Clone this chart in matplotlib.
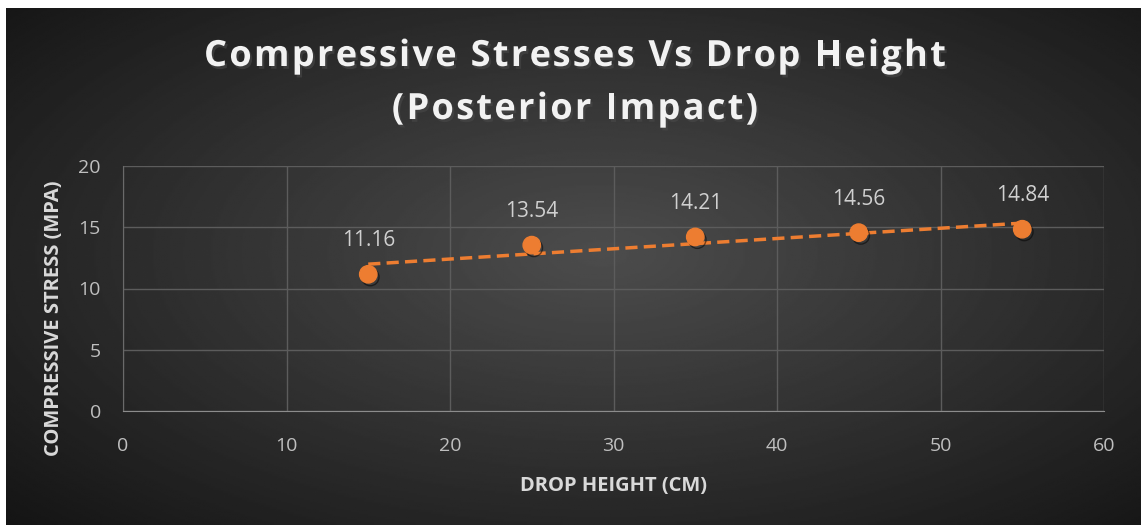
import numpy as np
import matplotlib.pyplot as plt
import matplotlib.patheffects as pe

# data
drop_height = [15, 25, 35, 45, 55]
stress = [11.16, 13.54, 14.21, 14.56, 14.84]
x_ticks = [0, 10, 20, 30, 40, 50, 60]
y_ticks = [0, 5, 10, 15, 20]
title_lines = ['Compressive Stresses Vs Drop Height', '(Posterior Impact)']

orange = '#ED7D31'
txt = '#d9d9d9'
W, H = 1141, 525

fig = plt.figure(figsize=(W / 100, H / 100), dpi=100)
fig.patch.set_facecolor('white')

# radial gradient background
bg = fig.add_axes([6 / W, 0, 1 - 6 / W, 1 - 8 / H])
bg.set_axis_off()
yy, xx = np.mgrid[-1:1:300j, -1:1:600j]
r = np.sqrt(((xx - 0.05) * 0.95) ** 2 + ((yy + 0.05) * 0.9) ** 2)
bg.imshow(0.30 - 0.16 * np.clip(r, 0, 1.4), cmap='gray', vmin=0, vmax=1,
          aspect='auto', extent=[0, 1, 0, 1])

ax = fig.add_axes([123 / W, 1 - 411 / H, (1104 - 123) / W, (411 - 166) / H])
ax.patch.set_alpha(0)
ax.set_xlim(0, 60)
ax.set_ylim(0, 20)
ax.set_xticks(x_ticks)
ax.set_yticks(y_ticks)
ax.grid(True, color='#5c5c5c', linewidth=1)
for s in ['top', 'right']:
    ax.spines[s].set_visible(False)
ax.spines['bottom'].set_color('#8c8c8c')
ax.spines['left'].set_color('#6a6a6a')
ax.tick_params(length=0, colors='#bfbfbf', labelsize=14)
ax.tick_params(axis='x', pad=19)
ax.tick_params(axis='y', pad=16)
for lbl in ax.get_xticklabels() + ax.get_yticklabels():
    lbl.set_fontfamily('Open Sans')

# linear trendline
k, b = np.polyfit(drop_height, stress, 1)
tx = np.array([drop_height[0], drop_height[-1]])
ax.plot(tx, k * tx + b, '--', color=orange, linewidth=2.5, dashes=(3.5, 1.8), zorder=3)

ax.plot(drop_height, stress, 'o', color=orange, markersize=12.5, zorder=4,
        path_effects=[pe.SimpleLineShadow(offset=(1.5, -2), alpha=0.5), pe.Normal()])

for x, y in zip(drop_height, stress):
    ax.annotate(f'{y:.2f}', (x, y), xytext=(0, 24), textcoords='offset points',
                ha='center', va='center', color='#d0d0d0', fontsize=15,
                fontfamily='Open Sans')

ax.set_xlabel('DROP HEIGHT (CM)', color=txt, fontsize=14.5, fontweight='bold',
              fontfamily='Open Sans')
ax.xaxis.set_label_coords(0.5005, -0.265)
ax.set_ylabel('COMPRESSIVE STRESS (MPA)', color=txt, fontsize=14.5, fontweight='bold',
              fontfamily='Open Sans')
ax.yaxis.set_label_coords(-0.060, 0.38)

# title with letter spacing, placed char by char
renderer = fig.canvas.get_renderer()
title_kw = dict(color='#f2f2f2', fontsize=26, fontweight='bold', fontfamily='Open Sans')
title_fx = [pe.withSimplePatchShadow(offset=(1.5, -2), alpha=0.6)]

t0 = fig.text(0, 0, 'HH', **title_kw)
hh = t0.get_window_extent(renderer).width
t0.remove()


def width_of(s):
    t = fig.text(0, 0, 'H' + s + 'H', **title_kw)
    w = t.get_window_extent(renderer).width
    t.remove()
    return w - hh


spacing = 2.3
for line, yc in zip(title_lines, [57, 110]):
    total = width_of(line) + (len(line) - 1) * spacing
    start = 575 - total / 2
    for i, ch in enumerate(line):
        if ch == ' ':
            continue
        xp = start + width_of(line[:i]) + i * spacing
        fig.text(xp / W, 1 - yc / H, ch, ha='left', va='center',
                 path_effects=title_fx, **title_kw)

fig.savefig('out.png', dpi=100)
